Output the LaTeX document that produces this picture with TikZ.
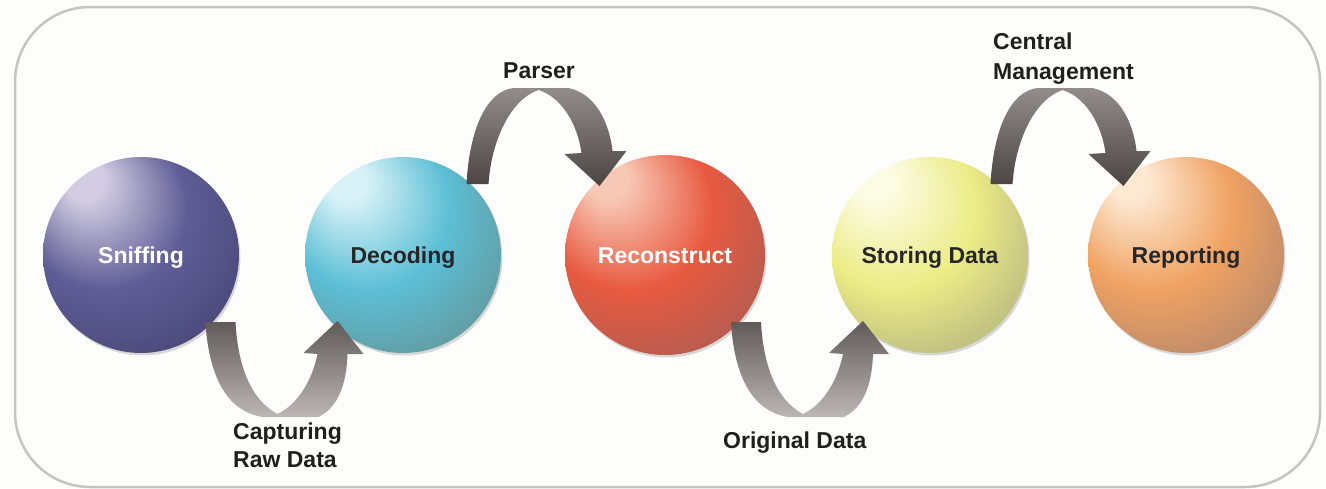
\documentclass[tikz,border=0pt]{standalone}
\usepackage{fontspec}
\setmainfont{Liberation Sans}
\usetikzlibrary{calc}
\usetikzlibrary{shadows}

\definecolor{paper}{HTML}{FDFDFB}
\definecolor{framegray}{HTML}{C4C4C4}
\definecolor{dipdark}{HTML}{5F5957}
\definecolor{diplight}{HTML}{BCB7B5}
\definecolor{humplight}{HTML}{928D8B}
\definecolor{humpdark}{HTML}{4A4442}
\definecolor{sphhi}{HTML}{FFFFFF}
\definecolor{sphmid}{HTML}{808080}
\definecolor{sphlo}{HTML}{404040}

%% glossy sphere, highlight up left
\pgfdeclareradialshading[sphhi,sphmid,sphlo]{sphere}{\pgfpoint{-16bp}{21bp}}{%
  color(0bp)=(sphhi); color(5bp)=(sphhi); color(21bp)=(sphmid);
  color(33bp)=(sphlo); color(50bp)=(sphlo)}

\begin{document}
\begin{tikzpicture}[
		x=1pt, y=-1pt,
		lbl/.style={font=\fontsize{23}{28}\selectfont\bfseries, text=black!88, inner sep=0pt},
		globe/.style n args={3}{circle, minimum size=196pt, inner sep=0pt,
			/utils/exec={\definecolor{sphhi}{HTML}{#1}\definecolor{sphmid}{HTML}{#2}\definecolor{sphlo}{HTML}{#3}},
			shade, shading=sphere,
			drop shadow={shadow xshift=1.5pt, shadow yshift=-2.5pt, fill=black, opacity=0.15},
			font=\fontsize{23}{28}\selectfont\bfseries, text=black!85,
			text height=16.5pt, text depth=0pt},
		dipbend/.pic={
			\shade[top color=dipdark, bottom color=diplight]
				(-66.5,67) .. controls (-63.5,119) and (-46.5,156) .. (-9.5,162)
				-- (46.5,162) .. controls (66.5,152) and (74.5,129) .. (75.5,99)
				-- (91.5,99) -- (65.5,66) -- (31.5,98) -- (45.5,99)
				.. controls (40.5,124) and (26.5,149) .. (5.5,159)
				.. controls (-13.5,149) and (-33.5,124) .. (-36.5,67) -- cycle;
		},
		humpbend/.pic={
			\shade[top color=humplight, bottom color=humpdark]
				(-67.5,-71) .. controls (-64.5,-126) and (-47.5,-164) .. (-20.5,-167)
				-- (34.5,-167) .. controls (62.5,-161) and (75.5,-131) .. (78.5,-104)
				-- (92.5,-104) -- (65.5,-69) -- (30.5,-101) -- (47.5,-102)
				.. controls (43.5,-131) and (27.5,-158) .. (4.5,-165)
				.. controls (-22.5,-156) and (-42.5,-116) .. (-45.5,-71) -- cycle;
		}]
	\useasboundingbox (0,0) rectangle (1326,488);
	\fill[paper] (0,0) rectangle (1326,488);
	\draw[framegray, line width=2.5pt, rounded corners=75pt] (15,7) rectangle (1320,487);
	%% stages
	\node[globe={D2CDE2}{5F5D96}{4E4C7E}, text=white] (sniff) at (141,255) {Sniffing};
	\node[globe={D8F2F7}{5CBFD6}{62A0A8}] (decode) at (403,255) {Decoding};
	\node[globe={F8C8B6}{E85A40}{BC5C4E}, text=white, minimum size=200pt] (rebuild) at (665,255) {Reconstruct};
	\node[globe={FCFCE4}{ECEC86}{C2C282}] (store) at (930,255) {Storing Data};
	\node[globe={FDE8D2}{F0A262}{C48E6A}] (report) at (1186,255) {Reporting};
	%% bent arrows between stages
	\pic at ($(sniff.center)!0.5!(decode.center)$) {dipbend};
	\pic at ($(decode.center)!0.5!(rebuild.center)$) {humpbend};
	\pic at ($(rebuild.center)!0.5!(store.center)$) {dipbend};
	\pic at ($(store.center)!0.5!(report.center)$) {humpbend};
	%% step labels
	\node[lbl, anchor=base west] (parserlbl) at (503,78) {Parser};
	\node[lbl, anchor=base west] (origlbl) at (723,448) {Original Data};
	\node[lbl, align=left, anchor=north west] (capturelbl) at (233,423) {Capturing\\Raw Data};
	\node[lbl, align=left, anchor=north west, font=\fontsize{23}{30}\selectfont\bfseries] (centrallbl) at (993,33) {Central\\Management};
\end{tikzpicture}
\end{document}
